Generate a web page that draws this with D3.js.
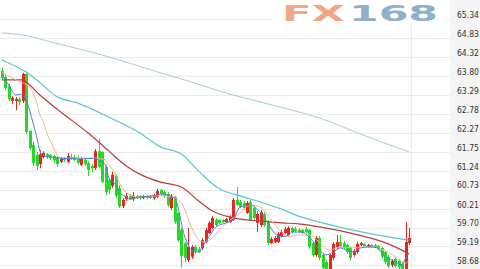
<!DOCTYPE html>
<html>
<head>
<meta charset="utf-8">
<script src="https://cdn.jsdelivr.net/npm/d3@7"></script>
<style>
html, body { margin:0; padding:0; background:#fff; overflow:hidden; }
svg { display:block; }
</style>
</head>
<body>
<div id="chart"></div>
<script>
// candles, one entry per bar
var opens = [
 63.94,63.78,63.53,63.13,63.13,63.18,63.13,63.86,62.32,61.94,
 61.67,61.42,61.61,61.69,61.67,61.64,61.61,61.48,61.58,61.48,
 61.61,61.61,61.58,61.40,61.53,61.45,61.37,61.31,61.77,61.75,
 61.34,60.99,60.83,61.10,60.77,60.28,60.47,60.56,60.47,60.56,
 60.56,60.50,60.56,60.56,60.50,60.53,60.72,60.66,60.61,60.23,
 60.53,60.10,59.64,59.28,58.82,58.91,59.18,59.12,59.15,59.31,
 59.55,59.69,59.91,59.91,59.91,59.85,59.85,59.91,60.45,60.39,
 60.37,60.10,60.39,60.23,59.83,59.77,60.07,59.85,59.28,59.31,
 59.31,59.47,59.55,59.50,59.69,59.66,59.64,59.64,59.66,59.64,
 59.28,58.96,59.42,58.96,58.77,58.55,58.88,59.18,59.31,59.28,
 59.23,59.15,58.96,59.04,59.23,59.26,59.18,59.23,59.23,59.20,
 59.15,59.04,58.91,58.69,58.85,58.80,58.71,58.42,59.28];
var highs = [
 64.02,63.83,63.59,63.26,63.24,63.24,63.89,63.91,62.34,62.02,
 61.75,61.80,61.77,61.72,61.69,61.67,61.64,61.61,61.61,61.72,
 61.69,61.67,61.64,61.61,61.58,61.50,61.42,61.83,62.10,61.77,
 61.40,61.04,61.21,61.15,60.85,60.50,60.64,60.61,60.66,60.58,
 60.58,60.58,60.58,60.58,60.61,60.75,60.75,60.72,60.66,60.61,
 60.56,60.12,59.69,59.31,59.69,59.23,59.23,59.18,59.42,59.69,
 59.88,60.01,59.96,59.93,59.93,59.96,60.04,60.50,60.80,60.45,
 60.42,60.42,60.45,60.28,60.15,60.18,60.12,59.91,59.45,59.47,
 59.58,59.64,59.72,59.74,59.72,59.72,59.69,59.66,59.72,59.66,
 59.31,59.47,59.47,59.01,58.82,59.01,59.31,59.50,59.50,59.34,
 59.26,59.18,59.12,59.31,59.31,59.28,59.26,59.26,59.26,59.23,
 59.18,59.09,58.96,58.85,58.88,58.85,58.77,59.85,59.69];
var lows = [
 63.70,63.43,63.13,63.05,62.88,63.02,63.07,62.23,61.80,61.37,
 61.26,61.31,61.58,61.56,61.53,61.45,61.34,61.45,61.48,61.45,
 61.53,61.50,61.40,61.37,61.37,61.10,61.21,61.26,61.31,60.91,
 60.58,60.61,60.77,60.50,60.23,60.23,60.42,60.45,60.42,60.47,
 60.45,60.47,60.47,60.47,60.45,60.50,60.56,60.50,60.26,60.18,
 59.80,59.31,58.61,58.77,58.77,58.85,58.99,59.01,59.09,59.28,
 59.53,59.66,59.74,59.80,59.83,59.83,59.83,59.88,60.28,60.23,
 60.18,60.07,59.88,59.91,59.58,59.72,59.72,59.23,59.26,59.28,
 59.28,59.45,59.53,59.47,59.55,59.58,59.55,59.53,59.55,59.12,
 58.91,58.91,58.82,58.50,58.42,58.50,58.82,59.12,59.18,59.12,
 58.99,58.82,58.91,58.99,59.20,59.18,59.15,59.15,59.15,59.09,
 58.85,58.71,58.61,58.63,58.61,58.55,58.39,58.34,59.23];
var closes = [
 63.75,63.48,63.18,63.21,63.18,63.10,63.86,62.29,61.85,61.45,
 61.37,61.69,61.72,61.61,61.58,61.53,61.42,61.56,61.53,61.64,
 61.58,61.53,61.45,61.56,61.42,61.26,61.31,61.77,61.34,60.93,
 60.66,60.72,61.13,60.56,60.28,60.45,60.56,60.47,60.56,60.50,
 60.50,60.56,60.50,60.50,60.58,60.69,60.61,60.56,60.31,60.56,
 59.85,59.36,58.93,58.88,59.18,59.18,59.04,59.04,59.36,59.64,
 59.83,59.96,59.77,59.83,59.85,59.93,59.99,60.45,60.31,60.26,
 60.23,60.37,59.91,59.96,60.07,60.12,59.77,59.28,59.39,59.42,
 59.53,59.58,59.66,59.69,59.58,59.61,59.58,59.55,59.58,59.18,
 58.96,59.42,58.88,58.61,58.55,58.96,59.26,59.31,59.20,59.15,
 59.04,58.88,59.07,59.26,59.28,59.20,59.23,59.18,59.18,59.12,
 58.91,58.77,58.66,58.80,58.66,58.63,58.50,59.31,59.42];

// moving averages as [bar index, value]
var maBlue = [[0,63.83],[2,63.56],[4,63.29],[6,63.32],[7,63.155],[8,62.88],[9,62.53],[10,62.18],[11,61.77],[12,61.64],
 [17,61.58],[23,61.56],[27,61.58],[28,61.53],[30,61.40],[31,61.04],[33,60.85],[34,60.66],[36,60.53],[37,60.47],
 [40,60.53],[44,60.56],[46,60.61],[50,60.50],[53,59.45],[55,59.09],[57,59.04],[58,59.18],[60,59.45],[62,59.72],
 [65,59.83],[67,59.91],[69,60.26],[72,60.31],[75,60.10],[77,59.83],[79,59.55],[81,59.45],[83,59.50],[84,59.58],
 [87,59.58],[89,59.45],[91,59.23],[92,59.09],[94,58.96],[96,59.04],[98,59.15],[100,59.09],[102,59.04],[104,59.15],
 [106,59.18],[109,59.15],[110,59.01],[112,58.88],[114,58.77],[116,58.69],[117,58.88],[118,59.01]];
var maTan = [[0,63.91],[3,63.75],[6,63.62],[8,63.50],[10,63.10],[11,62.75],[12,62.55],[13,62.26],[14,62.05],[15,61.85],
 [16,61.65],[17,61.58],[23,61.58],[27,61.58],[30,61.53],[31,61.40],[33,61.13],[34,60.91],[36,60.66],[39,60.53],
 [46,60.56],[49,60.53],[52,60.37],[55,59.69],[58,59.31],[61,59.42],[63,59.64],[69,60.10],[72,60.31],[75,60.26],
 [78,59.91],[81,59.58],[83,59.45],[86,59.50],[89,59.50],[92,59.31],[95,59.09],[98,59.18],[102,59.15],[107,59.18],
 [110,59.12],[114,58.91],[117,58.74],[118,58.82]];
var maRed = [[0,63.70],[6,63.70],[7,63.64],[11,63.29],[17,62.83],[25,62.26],[31,61.77],[36,61.37],[41,61.10],[46,60.93],
 [52,60.80],[57,60.42],[61,60.15],[65,60.01],[69,59.93],[75,59.88],[81,59.83],[86,59.80],[92,59.72],[102,59.53],
 [112,59.26],[118,58.99]];
var maCyan = [[0,64.24],[7,63.91],[9,63.78],[16,63.24],[22,63.07],[31,62.69],[40,62.26],[46,61.88],[52,61.69],[57,61.23],
 [63,60.75],[69,60.56],[75,60.39],[81,60.20],[86,60.01],[92,59.85],[107,59.53],[118,59.36]];
var maLong = [[0,64.97],[7,64.90],[14,64.73],[28,64.40],[46,63.89],[55,63.64],[65,63.34],[75,63.10],[84,62.88],[92,62.67],
 [104,62.23],[118,61.75]];

var yTicks = [65.34,64.83,64.32,63.80,63.29,62.78,62.27,61.75,61.24,60.73,60.21,59.70,59.19,58.68];
var xGrid = [118.5];

var W = 480, H = 269, plotRight = 450;

var svg = d3.select("#chart").append("svg")
    .attr("width", W)
    .attr("height", H);

var x = d3.scaleLinear().domain([0, 118]).range([2, 409.1]);
var y = d3.scaleLinear().domain([58.68, 65.34]).range([265.3, 19.3]);

// price panel on the right
svg.append("rect")
    .attr("x", plotRight).attr("y", 0)
    .attr("width", W - plotRight).attr("height", H)
    .attr("fill", "#f5f5f5");

// horizontal grid
var grid = svg.append("g")
    .attr("transform", "translate(" + plotRight + ",0)")
    .call(d3.axisLeft(y).tickValues(yTicks).tickSize(plotRight).tickFormat(""));
grid.select(".domain").remove();
grid.selectAll("line").attr("stroke", "#ececec").attr("shape-rendering", "crispEdges");

svg.selectAll(".vgrid")
    .data(xGrid)
    .enter().append("line")
    .attr("class", "vgrid")
    .attr("x1", function(d){ return Math.round(x(d)) + 0.5; })
    .attr("x2", function(d){ return Math.round(x(d)) + 0.5; })
    .attr("y1", 0).attr("y2", H)
    .attr("stroke", "#ececec");

// watermark
var wm = svg.append("g");
wm.append("rect").attr("x", 272).attr("y", 0).attr("width", 173).attr("height", 22).attr("fill", "#fff");
wm.append("text").attr("x", 282).attr("y", 20.5)
    .attr("font-family", "DejaVu Sans, sans-serif").attr("font-weight", "bold").attr("font-size", 22)
    .attr("textLength", 63).attr("lengthAdjust", "spacingAndGlyphs")
    .attr("fill", "#f3a686").text("FX");
wm.append("text").attr("x", 349).attr("y", 20.5)
    .attr("font-family", "DejaVu Sans, sans-serif").attr("font-weight", "bold").attr("font-size", 22)
    .attr("textLength", 89).attr("lengthAdjust", "spacingAndGlyphs")
    .attr("fill", "#8db1ca").text("168");

// candles
var idx = d3.range(opens.length);
var up = function(i){ return closes[i] >= opens[i]; };
var colorUp = "#e5251f", colorDown = "#27d927";

var candle = svg.append("g").selectAll("g")
    .data(idx)
    .enter().append("g");

candle.append("line")
    .attr("x1", function(i){ return Math.round(x(i)) + 0.5; })
    .attr("x2", function(i){ return Math.round(x(i)) + 0.5; })
    .attr("y1", function(i){ return y(highs[i]); })
    .attr("y2", function(i){ return y(lows[i]); })
    .attr("stroke", function(i){ return up(i) ? colorUp : colorDown; })
    .attr("stroke-width", 1);

candle.append("rect")
    .attr("x", function(i){ return Math.round(x(i)) - 1; })
    .attr("width", 3)
    .attr("y", function(i){ return y(Math.max(opens[i], closes[i])); })
    .attr("height", function(i){ return Math.max(1, Math.abs(y(opens[i]) - y(closes[i]))); })
    .attr("fill", function(i){ return up(i) ? colorUp : colorDown; });

// moving averages
var line = d3.line()
    .x(function(d){ return x(d[0]); })
    .y(function(d){ return y(d[1]); })
    .curve(d3.curveMonotoneX);

var mas = [
    { data: maLong, color: "#a6cadc", w: 1 },
    { data: maCyan, color: "#5cc5d2", w: 1.2 },
    { data: maRed,  color: "#bb3a3a", w: 1.2 },
    { data: maTan,  color: "#f1b78e", w: 1 },
    { data: maBlue, color: "#4f7fe0", w: 1 }
];
svg.append("g").selectAll("path")
    .data(mas)
    .enter().append("path")
    .attr("d", function(m){ return line(m.data); })
    .attr("fill", "none")
    .attr("stroke", function(m){ return m.color; })
    .attr("stroke-width", function(m){ return m.w; });

// price labels
var axis = svg.append("g")
    .attr("transform", "translate(" + (plotRight + 4) + ",0)")
    .call(d3.axisRight(y).tickValues(yTicks).tickSize(0).tickPadding(3).tickFormat(d3.format(".2f")));
axis.select(".domain").remove();
axis.selectAll("text")
    .attr("dy", "-0.2em")
    .attr("fill", "#333")
    .attr("font-family", "DejaVu Sans Condensed, DejaVu Sans, sans-serif")
    .attr("font-size", 8.5);
</script>
</body>
</html>
